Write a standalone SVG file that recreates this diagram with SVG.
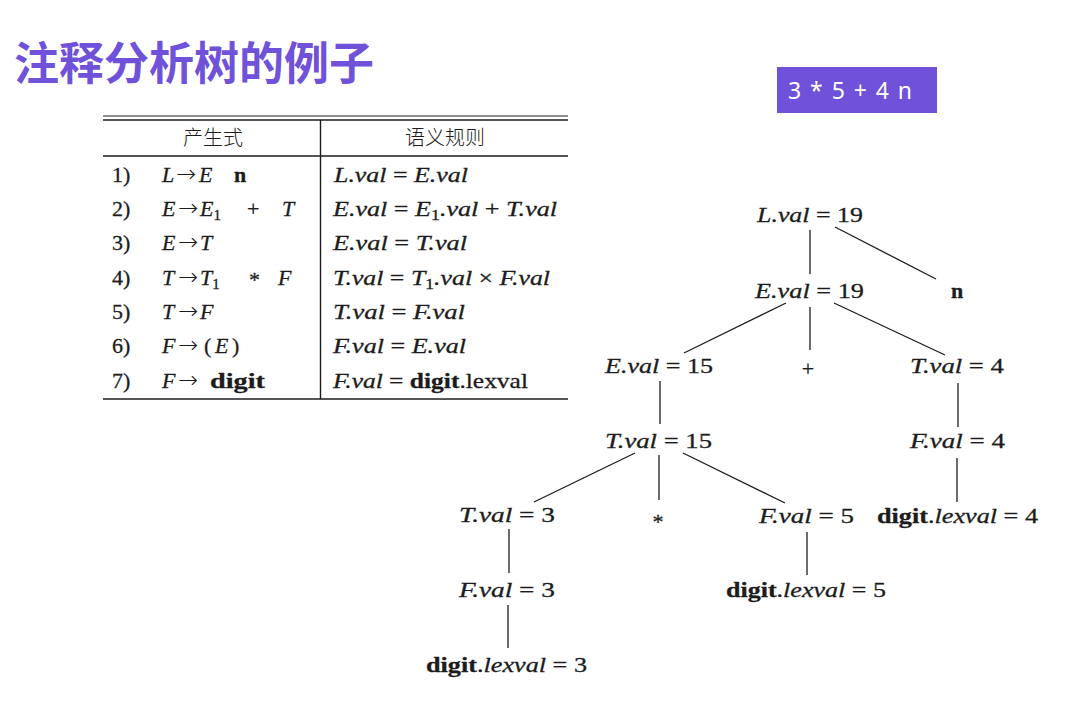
<svg xmlns="http://www.w3.org/2000/svg" width="1087" height="714" viewBox="0 0 1087 714">
<style>
.t{font-family:"Liberation Serif","Times New Roman",serif;font-size:22px;fill:#1c1c1c;stroke:#1c1c1c;stroke-width:0.3;white-space:pre}
.i{font-style:italic}
.b{font-weight:bold}
.ar{font-family:"DejaVu Sans",sans-serif;font-size:24px;font-weight:200;fill:#1c1c1c;stroke:none}
.sub{font-size:15px;font-style:normal}
.cjk{font-family:"Noto Sans CJK SC",sans-serif;font-size:20px;fill:#1c1c1c;font-weight:300}
.rule{stroke:#1c1c1c;fill:none}
.edge{stroke:#1c1c1c;stroke-width:1.3;fill:none}
</style>
<rect width="1087" height="714" fill="#ffffff"/>
<g id="title">
<text x="14" y="80" font-family="'Noto Sans CJK SC',sans-serif" font-size="45" font-weight="bold" fill="#6f52d9">注释分析树的例子</text>
</g>
<g id="input-box">
<rect x="777" y="67" width="160" height="46" fill="#6f52d9"/>
<text x="788" y="99" font-family="'Noto Sans','Open Sans',sans-serif" font-size="23" fill="#ffffff" textLength="124" lengthAdjust="spacing">3 * 5 + 4 n</text>
</g>
<g id="table">
<line class="rule" x1="103" y1="116" x2="568" y2="116" stroke-width="1"/>
<line class="rule" x1="103" y1="120" x2="568" y2="120" stroke-width="1.6"/>
<line class="rule" x1="103" y1="156" x2="568" y2="156" stroke-width="1.4"/>
<line class="rule" x1="103" y1="399" x2="568" y2="399" stroke-width="1.6"/>
<line class="rule" x1="320.5" y1="120" x2="320.5" y2="399" stroke-width="1.4"/>
<text class="cjk" x="213" y="145" text-anchor="middle">产生式</text>
<text class="cjk" x="445" y="145" text-anchor="middle">语义规则</text>
<text class="t" x="112" y="181.5">1)</text>
<text class="t" x="112" y="216">2)</text>
<text class="t" x="112" y="250">3)</text>
<text class="t" x="112" y="284.5">4)</text>
<text class="t" x="112" y="319">5)</text>
<text class="t" x="112" y="353">6)</text>
<text class="t" x="112" y="388">7)</text>

<g id="prod-1">
<text class="t i" x="162" y="181.5">L</text><text class="ar" x="176" y="181.5">→</text><text class="t i" x="199" y="181.5">E</text><text class="t b" x="234" y="181.5">n</text>
</g>
<g id="prod-2">
<text class="t i" x="162" y="216">E</text><text class="ar" x="178" y="216">→</text><text class="t i" x="200" y="216">E<tspan class="sub" dy="4">1</tspan></text><text class="t" x="247" y="216">+</text><text class="t i" x="282" y="216">T</text>
</g>
<g id="prod-3">
<text class="t i" x="162" y="250">E</text><text class="ar" x="178" y="250">→</text><text class="t i" x="200" y="250">T</text>
</g>
<g id="prod-4">
<text class="t i" x="162" y="284.5">T</text><text class="ar" x="178" y="284.5">→</text><text class="t i" x="200" y="284.5">T<tspan class="sub" dy="4">1</tspan></text><text class="t" x="249" y="287">*</text><text class="t i" x="278" y="284.5">F</text>
</g>
<g id="prod-5">
<text class="t i" x="162" y="319">T</text><text class="ar" x="178" y="319">→</text><text class="t i" x="200" y="319">F</text>
</g>
<g id="prod-6">
<text class="t i" x="162" y="353">F</text><text class="ar" x="178" y="353">→</text><text class="t" x="204" y="353">(</text><text class="t i" x="215" y="353">E</text><text class="t" x="232" y="353">)</text>
</g>
<g id="prod-7">
<text class="t i" x="162" y="388">F</text><text class="ar" x="178" y="388">→</text><text class="t b" x="210" y="388" textLength="55" lengthAdjust="spacingAndGlyphs">digit</text>
</g>

<text class="t" x="334" y="181.5" textLength="134" lengthAdjust="spacingAndGlyphs"><tspan class="i">L.val</tspan> = <tspan class="i">E.val</tspan></text>
<text class="t" x="333" y="216" textLength="224" lengthAdjust="spacingAndGlyphs"><tspan class="i">E.val</tspan> = <tspan class="i">E</tspan><tspan class="sub" dy="4">1</tspan><tspan class="i" dy="-4">.val</tspan> + <tspan class="i">T.val</tspan></text>
<text class="t" x="333" y="250" textLength="134" lengthAdjust="spacingAndGlyphs"><tspan class="i">E.val</tspan> = <tspan class="i">T.val</tspan></text>
<text class="t" x="333" y="284.5" textLength="217" lengthAdjust="spacingAndGlyphs"><tspan class="i">T.val</tspan> = <tspan class="i">T</tspan><tspan class="sub" dy="4">1</tspan><tspan class="i" dy="-4">.val</tspan> × <tspan class="i">F.val</tspan></text>
<text class="t" x="333" y="319" textLength="132" lengthAdjust="spacingAndGlyphs"><tspan class="i">T.val</tspan> = <tspan class="i">F.val</tspan></text>
<text class="t" x="333" y="353" textLength="133" lengthAdjust="spacingAndGlyphs"><tspan class="i">F.val</tspan> = <tspan class="i">E.val</tspan></text>
<text class="t" x="333" y="388" textLength="195" lengthAdjust="spacingAndGlyphs"><tspan class="i">F.val</tspan> = <tspan class="b">digit</tspan>.lexval</text>
</g>
<g id="connectors">
<line class="edge" x1="810" y1="230" x2="810" y2="274"/>
<line class="edge" x1="835" y1="227" x2="936" y2="279"/>
<line class="edge" x1="786" y1="303" x2="684" y2="353"/>
<line class="edge" x1="810" y1="307" x2="810" y2="350"/>
<line class="edge" x1="834" y1="303" x2="945" y2="355"/>
<line class="edge" x1="660" y1="381" x2="660" y2="424"/>
<line class="edge" x1="958" y1="383" x2="958" y2="427"/>
<line class="edge" x1="635" y1="453" x2="534" y2="502"/>
<line class="edge" x1="659" y1="455" x2="659" y2="500"/>
<line class="edge" x1="683" y1="453" x2="785" y2="503"/>
<line class="edge" x1="509" y1="529" x2="509" y2="573"/>
<line class="edge" x1="508" y1="605" x2="508" y2="648"/>
<line class="edge" x1="807" y1="532" x2="807" y2="575"/>
<line class="edge" x1="957" y1="458" x2="957" y2="502"/>
</g>
<g id="node-L19"><text class="t" x="757" y="222" textLength="106" lengthAdjust="spacingAndGlyphs"><tspan class="i">L.val</tspan> = 19</text></g>
<g id="node-E19"><text class="t" x="755" y="298" textLength="109" lengthAdjust="spacingAndGlyphs"><tspan class="i">E.val</tspan> = 19</text></g>
<g id="node-n"><text class="t b" x="951" y="298">n</text></g>
<g id="node-E15"><text class="t" x="605" y="373" textLength="108" lengthAdjust="spacingAndGlyphs"><tspan class="i">E.val</tspan> = 15</text></g>
<g id="node-plus"><text class="t" x="808" y="376" text-anchor="middle" font-size="27">+</text></g>
<g id="node-T4"><text class="t" x="910" y="373" textLength="94" lengthAdjust="spacingAndGlyphs"><tspan class="i">T.val</tspan> = 4</text></g>
<g id="node-T15"><text class="t" x="605" y="448" textLength="107" lengthAdjust="spacingAndGlyphs"><tspan class="i">T.val</tspan> = 15</text></g>
<g id="node-F4"><text class="t" x="910" y="448" textLength="95" lengthAdjust="spacingAndGlyphs"><tspan class="i">F.val</tspan> = 4</text></g>
<g id="node-T3"><text class="t" x="459" y="522" textLength="96" lengthAdjust="spacingAndGlyphs"><tspan class="i">T.val</tspan> = 3</text></g>
<g id="node-star"><text class="t" x="658" y="529" text-anchor="middle" font-size="26">*</text></g>
<g id="node-F5"><text class="t" x="759" y="523" textLength="95" lengthAdjust="spacingAndGlyphs"><tspan class="i">F.val</tspan> = 5</text></g>
<g id="node-digit4"><text class="t" x="877" y="523" textLength="161" lengthAdjust="spacingAndGlyphs"><tspan class="b">digit</tspan>.<tspan class="i">lexval</tspan> = 4</text></g>
<g id="node-F3"><text class="t" x="459" y="597" textLength="96" lengthAdjust="spacingAndGlyphs"><tspan class="i">F.val</tspan> = 3</text></g>
<g id="node-digit5"><text class="t" x="726" y="597" textLength="160" lengthAdjust="spacingAndGlyphs"><tspan class="b">digit</tspan>.<tspan class="i">lexval</tspan> = 5</text></g>
<g id="node-digit3"><text class="t" x="426" y="672" textLength="161" lengthAdjust="spacingAndGlyphs"><tspan class="b">digit</tspan>.<tspan class="i">lexval</tspan> = 3</text></g>
</svg>
